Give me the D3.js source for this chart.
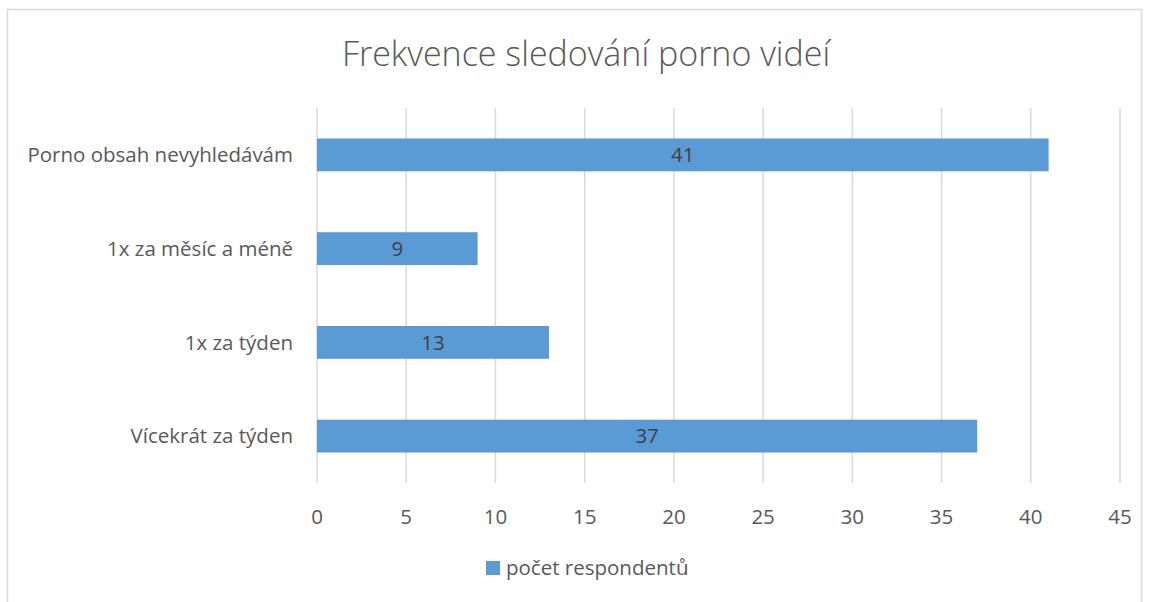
<!DOCTYPE html>
<html><head><meta charset="utf-8">
<script src="https://cdn.jsdelivr.net/npm/d3@7"></script>
<style>body{margin:0;background:#fff}svg{display:block}text{font-family:"Open Sans","Noto Sans",sans-serif}</style>
</head><body>
<svg id="c" width="1149" height="602"></svg>
<script>
const title = "Frekvence sledování porno videí";
const categories = ["Porno obsah nevyhledávám", "1x za měsíc a méně", "1x za týden", "Vícekrát za týden"];
const values = [41, 9, 13, 37];
const seriesName = "počet respondentů";
const ticks = [0, 5, 10, 15, 20, 25, 30, 35, 40, 45];

const svg = d3.select("#c");
svg.append("rect").attr("x", 7.5).attr("y", 9.5).attr("width", 1134).attr("height", 600)
  .attr("fill", "#fff").attr("stroke", "#d9d9d9").attr("stroke-width", 1.5);

const pLeft = 317, pRight = 1120, pTop = 108, pBottom = 483;
const x = d3.scaleLinear().domain([0, 45]).range([pLeft, pRight]);
const y = d3.scaleBand().domain(categories).range([pTop, pBottom]).paddingInner(0.65).paddingOuter(0.325);

svg.append("g").selectAll("line").data(ticks).join("line")
  .attr("x1", d => x(d)).attr("x2", d => x(d)).attr("y1", pTop).attr("y2", pBottom)
  .attr("stroke", "#d9d9d9").attr("stroke-width", 1.5);

svg.append("text").attr("x", 586).attr("y", 66).attr("text-anchor", "middle")
  .attr("font-size", 34).attr("fill", "#595959").attr("font-weight", 300).text(title);

svg.append("g").selectAll("rect").data(values).join("rect")
  .attr("x", x(0)).attr("y", (d, i) => y(categories[i]))
  .attr("width", d => x(d) - x(0)).attr("height", y.bandwidth()).attr("fill", "#5b9bd5");

svg.append("g").selectAll("text").data(values).join("text")
  .attr("x", d => (x(d) + x(0)) / 2).attr("y", (d, i) => y(categories[i]) + y.bandwidth() / 2)
  .attr("dy", "0.35em").attr("text-anchor", "middle").attr("font-size", 20.5).attr("fill", "#404040").text(d => d);

svg.append("g").selectAll("text").data(categories).join("text")
  .attr("x", 293).attr("y", d => y(d) + y.bandwidth() / 2).attr("dy", "0.35em")
  .attr("text-anchor", "end").attr("font-size", 20.5).attr("fill", "#595959").text(d => d);

svg.append("g").selectAll("text").data(ticks).join("text")
  .attr("x", d => x(d)).attr("y", 517).attr("dy", "0.35em")
  .attr("text-anchor", "middle").attr("font-size", 20.5).attr("fill", "#595959").text(d => d);

svg.append("rect").attr("x", 486).attr("y", 561).attr("width", 14).attr("height", 14).attr("fill", "#5b9bd5");
svg.append("text").attr("x", 506).attr("y", 568).attr("dy", "0.35em").attr("font-size", 20.5).attr("fill", "#595959").text(seriesName);
</script>
</body></html>
